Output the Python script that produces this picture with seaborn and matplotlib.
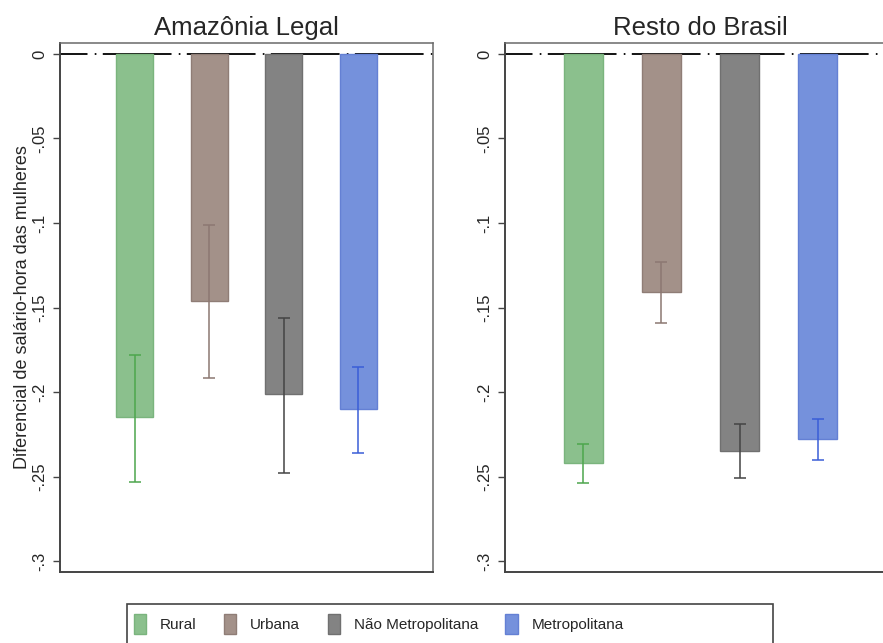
import numpy as np
import pandas as pd
import matplotlib
matplotlib.use("Agg")
import matplotlib.pyplot as plt
import seaborn as sns
from matplotlib.patches import Rectangle, Patch

# Categories and panels
categorias = ["Rural", "Urbana", "Não Metropolitana", "Metropolitana"]
paineis = ["Amazônia Legal", "Resto do Brasil"]

# Estimated wage differentials and 95% confidence bounds
coef_amazonia = [-0.215, -0.146, -0.201, -0.210]
ic_inf_amazonia = [-0.253, -0.192, -0.248, -0.236]
ic_sup_amazonia = [-0.178, -0.101, -0.156, -0.185]

coef_resto = [-0.242, -0.141, -0.235, -0.228]
ic_inf_resto = [-0.254, -0.159, -0.251, -0.240]
ic_sup_resto = [-0.231, -0.123, -0.219, -0.216]

yticks = [0, -0.05, -0.1, -0.15, -0.2, -0.25, -0.3]
ytick_labels = ["0", "-.05", "-.1", "-.15", "-.2", "-.25", "-.3"]

cores_barras = ["#8bc08d", "#a39189", "#838383", "#7591dc"]
cores_borda = ["#7ab47d", "#8f7d76", "#707070", "#6480d4"]
cores_ic = ["#4da64d", "#8c7872", "#444444", "#3a5ed7"]

df = pd.DataFrame({
    "painel": [paineis[0]] * 4 + [paineis[1]] * 4,
    "categoria": categorias * 2,
    "coef": coef_amazonia + coef_resto,
    "ic_inf": ic_inf_amazonia + ic_inf_resto,
    "ic_sup": ic_sup_amazonia + ic_sup_resto,
})

sns.set_theme(style="white")
plt.rcParams["font.family"] = ["Liberation Sans", "DejaVu Sans"]
plt.rcParams["lines.scale_dashes"] = False

W, H = 883, 643
fig = plt.figure(figsize=(W / 100, H / 100), dpi=100)
fig.patch.set_facecolor("white")

ax_pos = [
    [60 / W, 1 - 572 / H, 373 / W, 529 / H],
    [505 / W, 1 - 572 / H, 391 / W, 529 / H],
]

paleta = dict(zip(categorias, cores_barras))

for k, painel in enumerate(paineis):
    ax = fig.add_axes(ax_pos[k])
    sub = df[df["painel"] == painel]

    # zero reference line (long dash - dot)
    ax.axhline(0, color="black", lw=1.3, zorder=1,
               linestyle=(29.7, (49.5, 5.2, 1.2, 4.6)))

    sns.barplot(data=sub, x="categoria", y="coef", hue="categoria",
                order=categorias, hue_order=categorias, palette=paleta,
                width=0.5, saturation=1, legend=False, ax=ax, zorder=2,
                linewidth=1.0)
    for patch, ec in zip(ax.patches, cores_borda):
        patch.set_edgecolor(ec)

    for i, (_, row) in enumerate(sub.iterrows()):
        ax.errorbar(i, row["coef"],
                    yerr=[[row["coef"] - row["ic_inf"]], [row["ic_sup"] - row["coef"]]],
                    fmt="none", ecolor=cores_ic[i], elinewidth=1.1,
                    capsize=4, capthick=1.1, zorder=4)

    ax.set_xlim(-1, 4)
    ax.set_ylim(-0.3065, 0.0065)
    ax.set_xticks([])
    ax.set_xlabel("")
    ax.set_yticks(yticks)
    ax.set_yticklabels(ytick_labels, rotation=90, va="center", fontsize=12)
    ax.tick_params(axis="y", direction="out", length=5, width=1,
                   color="#444444", pad=4, left=True)
    ax.set_title(painel, fontsize=18.5, pad=6)

    for side in ["left", "bottom"]:
        ax.spines[side].set_color("#444444")
        ax.spines[side].set_linewidth(1.4)
    for side in ["top", "right"]:
        ax.spines[side].set_color("#6a6a6a")
        ax.spines[side].set_linewidth(1.1)

    if k == 0:
        ax.set_ylabel("Diferencial de salário-hora das mulheres", fontsize=13,
                      labelpad=1)
    else:
        ax.set_ylabel("")

# legend box along the bottom
fig.add_artist(Rectangle((127 / W, -0.05), 646 / W, (643 - 604) / H + 0.05,
                         transform=fig.transFigure, fill=False,
                         edgecolor="#444444", lw=1.2))
handles = [Patch(facecolor=c, edgecolor=e) for c, e in zip(cores_barras, cores_borda)]
fig.legend(handles, categorias, loc="upper left",
           bbox_to_anchor=(134 / W, 1 - 614 / H), ncol=4, frameon=False,
           handlelength=0.8, handleheight=1.6, handletextpad=0.9,
           columnspacing=1.8, fontsize=11, borderpad=0, borderaxespad=0)

fig.savefig("out.png", dpi=100)
